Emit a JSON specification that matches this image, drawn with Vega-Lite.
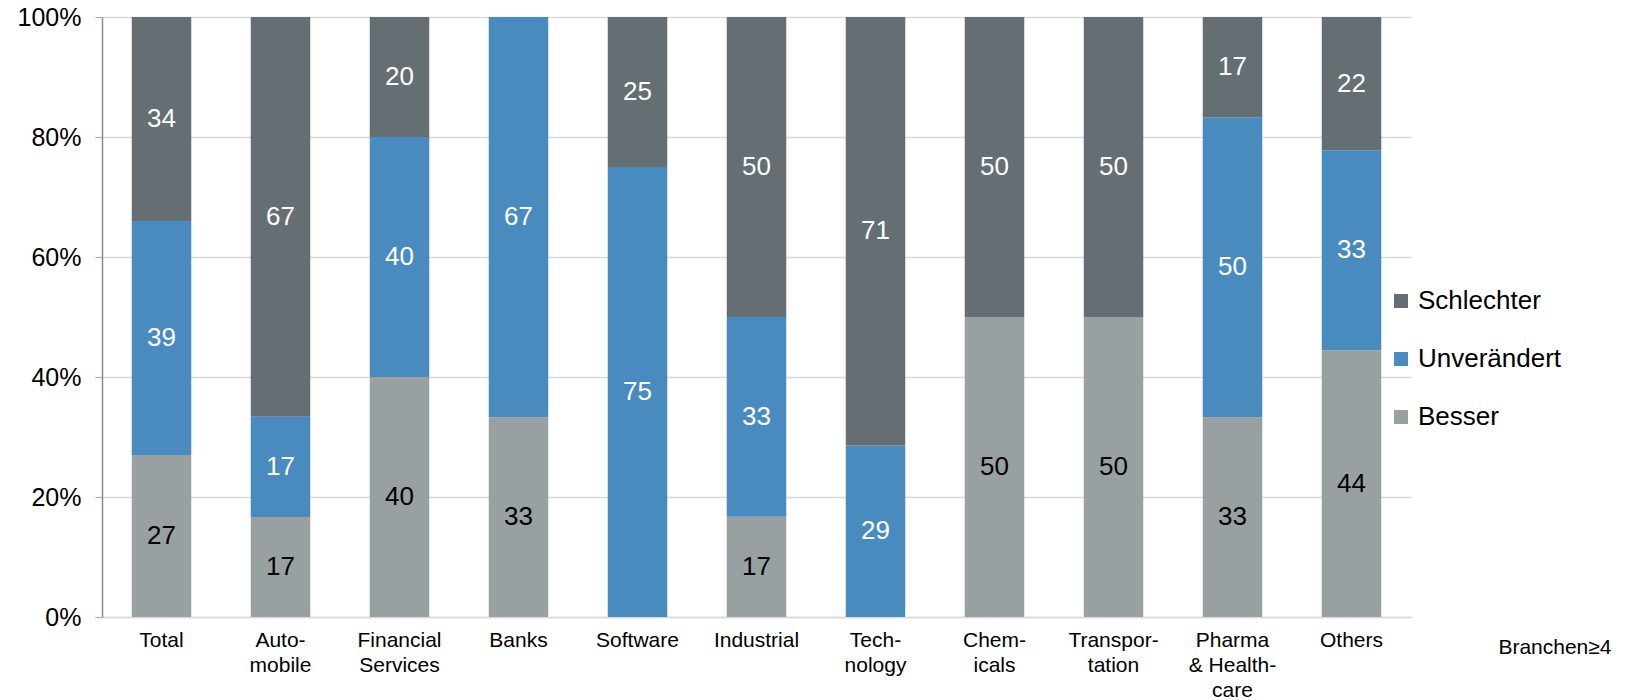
{
  "$schema": "https://vega.github.io/schema/vega-lite/v6.json",
  "width": 1309,
  "height": 600,
  "autosize": {"type": "none"},
  "padding": {"left": 102, "top": 17, "right": 214, "bottom": 83},
  "background": "white",
  "config": {
    "font": "Liberation Sans",
    "view": {"stroke": null},
    "axis": {"labelFont": "Liberation Sans", "titleFont": "Liberation Sans", "labelColor": "black", "titleColor": "black"},
    "legend": {"labelFont": "Liberation Sans"}
  },
  "data": {
    "values": [
      {"branche": "Total", "cat": "Besser", "rank": 1, "v": 27},
      {"branche": "Total", "cat": "Unverändert", "rank": 2, "v": 39},
      {"branche": "Total", "cat": "Schlechter", "rank": 3, "v": 34},
      {"branche": "Auto-|mobile", "cat": "Besser", "rank": 1, "v": 16.7},
      {"branche": "Auto-|mobile", "cat": "Unverändert", "rank": 2, "v": 16.7},
      {"branche": "Auto-|mobile", "cat": "Schlechter", "rank": 3, "v": 66.7},
      {"branche": "Financial|Services", "cat": "Besser", "rank": 1, "v": 40},
      {"branche": "Financial|Services", "cat": "Unverändert", "rank": 2, "v": 40},
      {"branche": "Financial|Services", "cat": "Schlechter", "rank": 3, "v": 20},
      {"branche": "Banks", "cat": "Besser", "rank": 1, "v": 33.3},
      {"branche": "Banks", "cat": "Unverändert", "rank": 2, "v": 66.7},
      {"branche": "Software", "cat": "Unverändert", "rank": 2, "v": 75},
      {"branche": "Software", "cat": "Schlechter", "rank": 3, "v": 25},
      {"branche": "Industrial", "cat": "Besser", "rank": 1, "v": 16.7},
      {"branche": "Industrial", "cat": "Unverändert", "rank": 2, "v": 33.3},
      {"branche": "Industrial", "cat": "Schlechter", "rank": 3, "v": 50},
      {"branche": "Tech-|nology", "cat": "Unverändert", "rank": 2, "v": 28.6},
      {"branche": "Tech-|nology", "cat": "Schlechter", "rank": 3, "v": 71.4},
      {"branche": "Chem-|icals", "cat": "Besser", "rank": 1, "v": 50},
      {"branche": "Chem-|icals", "cat": "Schlechter", "rank": 3, "v": 50},
      {"branche": "Transpor-|tation", "cat": "Besser", "rank": 1, "v": 50},
      {"branche": "Transpor-|tation", "cat": "Schlechter", "rank": 3, "v": 50},
      {"branche": "Pharma|& Health-|care", "cat": "Besser", "rank": 1, "v": 33.3},
      {"branche": "Pharma|& Health-|care", "cat": "Unverändert", "rank": 2, "v": 50},
      {"branche": "Pharma|& Health-|care", "cat": "Schlechter", "rank": 3, "v": 16.7},
      {"branche": "Others", "cat": "Besser", "rank": 1, "v": 44.4},
      {"branche": "Others", "cat": "Unverändert", "rank": 2, "v": 33.3},
      {"branche": "Others", "cat": "Schlechter", "rank": 3, "v": 22.2}
    ]
  },
  "encoding": {
    "x": {
      "field": "branche",
      "type": "nominal",
      "sort": null,
      "scale": {"paddingInner": 0.5, "paddingOuter": 0.25},
      "axis": {
        "title": "Branchen≥4",
        "titleFontSize": 21,
        "titleFontWeight": "normal",
        "titleX": 1509,
        "titleY": 36,
        "titleAlign": "right",
        "titleAnchor": null,
        "titleBaseline": "alphabetic",
        "labelExpr": "split(datum.value, '|')",
        "labelAngle": 0,
        "labelFontSize": 21,
        "labelLineHeight": 25,
        "labelPadding": 12,
        "labelBaseline": "top",
        "ticks": false,
        "domainColor": "#d9d9d9",
        "domainWidth": 1.5,
        "grid": false
      }
    }
  },
  "layer": [
    {
      "mark": {"type": "bar", "stroke": null},
      "encoding": {
        "y": {
          "field": "v",
          "type": "quantitative",
          "stack": "normalize",
          "scale": {"domain": [0, 1]},
          "axis": {
            "title": null,
            "format": ".0%",
            "values": [0, 0.2, 0.4, 0.6, 0.8, 1],
            "labelFontSize": 25,
            "labelPadding": 14,
            "tickSize": 7,
            "tickColor": "#a6a6a6",
            "domainColor": "#8c8c8c",
            "domainWidth": 1.5,
            "gridColor": "#d9d9d9",
            "gridWidth": 1.5
          }
        },
        "color": {
          "field": "cat",
          "type": "nominal",
          "scale": {
            "domain": ["Schlechter", "Unverändert", "Besser"],
            "range": ["#646e73", "#4a8bbf", "#98a0a2"]
          },
          "legend": {
            "title": null,
            "orient": "none",
            "legendX": 1286,
            "legendY": 271,
            "symbolType": "square",
            "symbolSize": 196,
            "symbolStrokeWidth": 0,
            "labelFontSize": 26,
            "labelOffset": 4,
            "rowPadding": 32,
            "padding": 0
          }
        },
        "order": {"field": "rank", "type": "quantitative", "sort": "ascending"}
      }
    },
    {
      "mark": {"type": "text", "fontSize": 26, "baseline": "middle", "align": "center"},
      "encoding": {
        "y": {"field": "v", "type": "quantitative", "stack": "normalize", "bandPosition": 0.5},
        "detail": {"field": "cat"},
        "order": {"field": "rank", "type": "quantitative", "sort": "ascending"},
        "text": {"field": "v", "type": "quantitative", "format": ".0f"},
        "color": {"condition": {"test": "datum.cat === 'Besser'", "value": "black"}, "value": "white"}
      }
    }
  ]
}
